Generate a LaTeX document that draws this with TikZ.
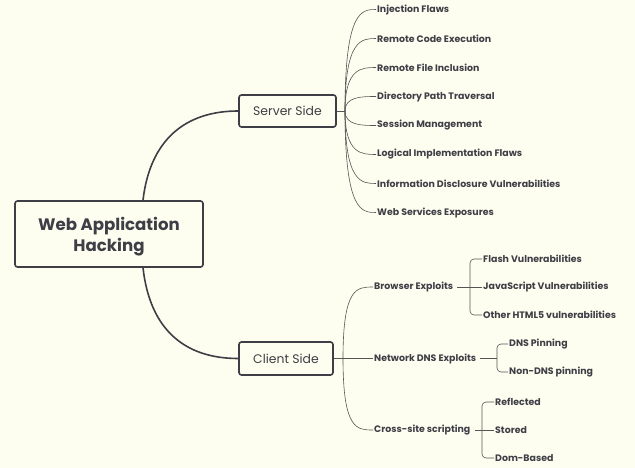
\documentclass[tikz,border=0pt]{standalone}
\usepackage{fontspec}
\setmainfont{Poppins}
\definecolor{bg}{HTML}{FEFEF0}
\definecolor{ink}{HTML}{3E3E46}
\definecolor{wire}{HTML}{555555}
\begin{document}
\begin{tikzpicture}[x=1pt,y=-1pt,
  mainbox/.style={draw=ink, line width=1.6pt, rounded corners=2.5pt, fill=bg, text=ink, inner sep=0pt},
  leaf/.style={anchor=west, inner sep=1pt, text=ink, font=\bfseries\fontsize{9.4}{11}\selectfont},
  thickwire/.style={draw=ink, line width=1.6pt},
  thinwire/.style={draw=wire, line width=0.6pt},
  bracket/.style={thinwire, rounded corners=4pt}]
\fill[bg] (0,0) rectangle (635,468);
\useasboundingbox (0,0) rectangle (635,468);

% main boxes
\node[mainbox, minimum width=188, minimum height=66, align=center, text depth=0pt,
      font=\bfseries\fontsize{16.6}{21}\selectfont] (root) at (109,234) {Web Application\\Hacking};
\node[mainbox, minimum width=97, minimum height=32,
      font=\fontsize{12.4}{14}\selectfont] (srv) at (287.5,111) {Server Side};
\node[mainbox, minimum width=94, minimum height=33,
      font=\fontsize{12.4}{14}\selectfont] (cli) at (286,358.5) {Client Side};

\draw[thickwire] ([xshift=34]root.north) .. controls (150,140) and (185,111) .. (srv.west);
\draw[thickwire] ([xshift=34]root.south) .. controls (150,330) and (185,358.5) .. (cli.west);

% server side leaves
\coordinate (sf) at (345,111);
\node[leaf] (s1) at (376,9.5) {Injection Flaws};
\node[leaf] (s2) at (376,38.5) {Remote Code Execution};
\node[leaf] (s3) at (376,67.5) {Remote File Inclusion};
\node[leaf] (s4) at (376,96.5) {Directory Path Traversal};
\node[leaf] (s5) at (376,125.5) {Session Management};
\node[leaf] (s6) at (376,154.5) {Logical Implementation Flaws};
\node[leaf] (s7) at (376,183.5) {Information Disclosure Vulnerabilities};
\node[leaf] (s8) at (376,212.5) {Web Services Exposures};
\draw[thinwire] (srv.east) -- (sf);
\foreach \n in {s1,s2,s3,s4,s5,s6,s7,s8}
  \draw[thinwire] (sf) .. controls (sf |- \n.west) and ([xshift=-14]\n.west) .. (\n.west);

% client side branches
\coordinate (cf) at (343,358.5);
\node[leaf] (be) at (373,287) {Browser Exploits};
\node[leaf] (nd) at (373,358.5) {Network DNS Exploits};
\node[leaf] (xs) at (373,430) {Cross-site scripting};
\draw[thinwire] (cli.east) -- (nd.west);
\foreach \n in {be,xs}
  \draw[thinwire] (cf) .. controls (cf |- \n.west) and ([xshift=-16]\n.west) .. (\n.west);

% browser exploits
\node[leaf] (b1) at (482,259) {Flash Vulnerabilities};
\node[leaf] (b2) at (482,287) {JavaScript Vulnerabilities};
\node[leaf] (b3) at (482,315) {Other HTML5 vulnerabilities};
\coordinate (bx) at (470,287);
\draw[thinwire] ([xshift=3]be.east) -- (b2.west);
\draw[bracket] (b1.west) -| (bx) |- (b3.west);

% network dns
\node[leaf] (n1) at (508,344) {DNS Pinning};
\node[leaf] (n2) at (508,372) {Non-DNS pinning};
\coordinate (nx) at (497,358.5);
\draw[thinwire] ([xshift=3]nd.east) -- (nx);
\draw[bracket] (n1.west) -| (nx) |- (n2.west);

% cross-site scripting
\node[leaf] (x1) at (494,402) {Reflected};
\node[leaf] (x2) at (494,430) {Stored};
\node[leaf] (x3) at (494,458) {Dom-Based};
\coordinate (xx) at (482,430);
\draw[thinwire] ([xshift=3]xs.east) -- (x2.west);
\draw[bracket] (x1.west) -| (xx) |- (x3.west);
\end{tikzpicture}
\end{document}
